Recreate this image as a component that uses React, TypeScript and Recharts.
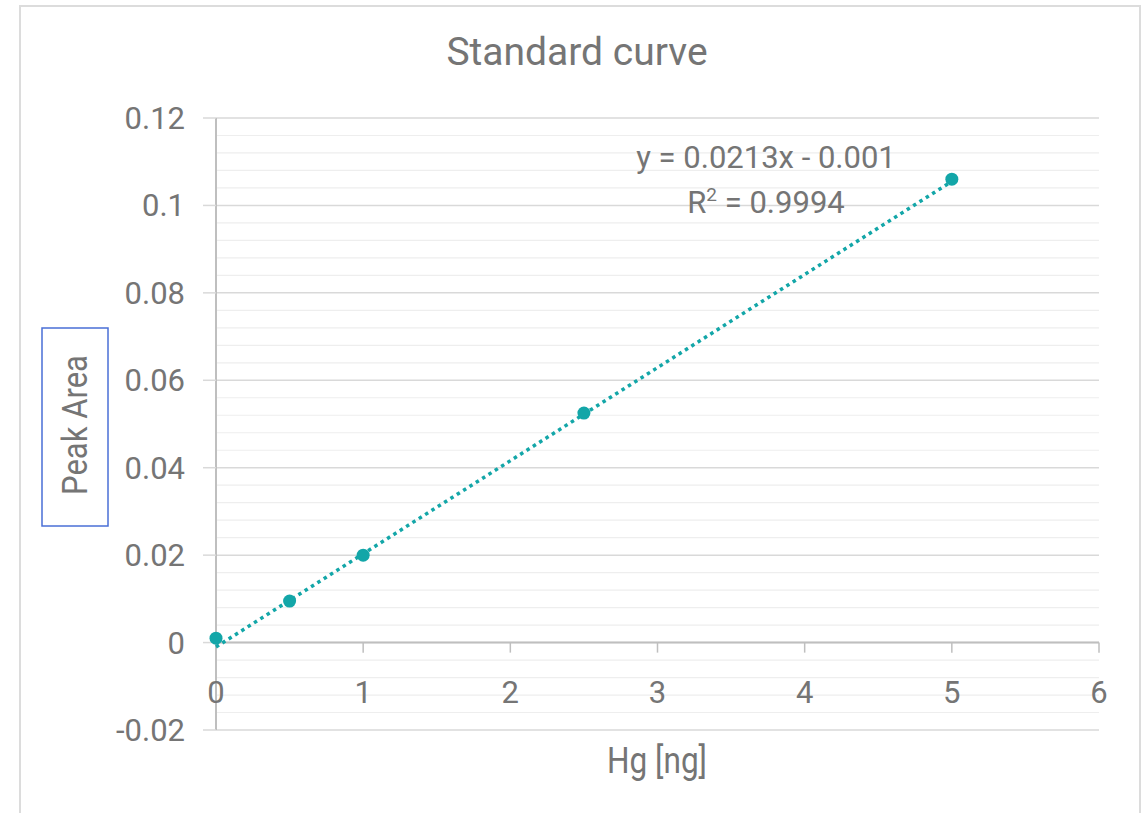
import React from 'react';
import {
  ScatterChart,
  Scatter,
  XAxis,
  YAxis,
  CartesianGrid,
  ReferenceLine,
} from 'recharts';

// Hg amount [ng] and measured peak area
const hgAmounts = [0, 0.5, 1, 2.5, 5];
const peakAreas = [0.001, 0.0095, 0.02, 0.0525, 0.106];

// trendline end points, from y = 0.0213x - 0.001 over the data range
const trendX = [0, 5];
const trendY = [-0.001, 0.1055];

const xTicks = [0, 1, 2, 3, 4, 5, 6];
const yTicks = [-0.02, 0, 0.02, 0.04, 0.06, 0.08, 0.1, 0.12];
const minorY = [
  -0.016, -0.012, -0.008, -0.004, 0.004, 0.008, 0.012, 0.016, 0.024, 0.028,
  0.032, 0.036, 0.044, 0.048, 0.052, 0.056, 0.064, 0.068, 0.072, 0.076, 0.084,
  0.088, 0.092, 0.096, 0.104, 0.108, 0.112, 0.116,
];

const points = hgAmounts.map((x, i) => ({ x, y: peakAreas[i] }));
const trend = trendX.map((x, i) => ({ x, y: trendY[i] }));

const TEAL = '#13a6a8';
const TEXT = '#757575';
const FONT = 'Roboto, "Noto Sans", sans-serif';

const fmt = (v: number) => String(parseFloat(v.toFixed(3)));

export default function App() {
  return (
    <div
      style={{
        position: 'absolute',
        left: 0,
        top: 0,
        width: 1143,
        height: 813,
        background: '#fff',
      }}
    >
      <ScatterChart
        width={1143}
        height={813}
        margin={{ top: 118, right: 44, bottom: 83, left: 0 }}
      >
        {minorY.map((v) => (
          <ReferenceLine key={'m' + v} y={v} stroke="#eeeeee" strokeWidth={1.2} />
        ))}
        <CartesianGrid vertical={false} stroke="#d9d9d9" strokeWidth={1.5} />
        <XAxis type="number" dataKey="x" domain={[0, 6]} ticks={xTicks} hide />
        <YAxis
          type="number"
          dataKey="y"
          domain={[-0.02, 0.12]}
          ticks={yTicks}
          width={216}
          tickSize={13}
          tickMargin={18}
          axisLine={{ stroke: '#bfbfbf', strokeWidth: 2 }}
          tickLine={{ stroke: '#d9d9d9', strokeWidth: 1.5 }}
          tick={{ fill: TEXT, fontSize: 31, fontFamily: FONT }}
          tickFormatter={fmt}
        />
        <ReferenceLine y={0} stroke="#bfbfbf" strokeWidth={2} />
        {xTicks.map((t) => (
          <ReferenceLine
            key={'x' + t}
            segment={[
              { x: t, y: 0 },
              { x: t, y: -0.0023 },
            ]}
            stroke="#bfbfbf"
            strokeWidth={1.5}
            label={{
              value: String(t),
              position: 'bottom',
              offset: 28,
              fill: TEXT,
              fontSize: 31,
              fontFamily: FONT,
            }}
          />
        ))}
        <Scatter
          data={trend}
          line={{ stroke: TEAL, strokeWidth: 3.5, strokeDasharray: '3.5 4' }}
          shape={() => <g />}
          isAnimationActive={false}
        />
        <Scatter
          data={points}
          fill={TEAL}
          shape={(p: any) => <circle cx={p.cx} cy={p.cy} r={6.5} fill={TEAL} />}
          isAnimationActive={false}
        />
      </ScatterChart>
      <svg
        width={1143}
        height={813}
        style={{ position: 'absolute', left: 0, top: 0, pointerEvents: 'none' }}
      >
        <rect x={20} y={6} width={1120} height={830} fill="none" stroke="#dcdcdc" strokeWidth={2} />
        <text x={577} y={65} textAnchor="middle" fill={TEXT} fontSize={39} fontFamily={FONT}>
          Standard curve
        </text>
        <text x={766} y={168} textAnchor="middle" fill={TEXT} fontSize={31} fontFamily={FONT}>
          y = 0.0213x - 0.001
        </text>
        <text x={766} y={213} textAnchor="middle" fill={TEXT} fontSize={31} fontFamily={FONT}>
          R
          <tspan fontSize={19} dy={-12}>
            2
          </tspan>
          <tspan dy={12}> = 0.9994</tspan>
        </text>
        <rect x={42} y={328} width={66} height={198} fill="none" stroke="#4a6fd6" strokeWidth={1.5} />
        <text
          x={0}
          y={0}
          transform="translate(87 425) rotate(-90)"
          textAnchor="middle"
          fill={TEXT}
          fontSize={35}
          fontFamily={FONT}
          textLength={140}
          lengthAdjust="spacingAndGlyphs"
        >
          Peak Area
        </text>
        <text
          x={657}
          y={773}
          textAnchor="middle"
          fill={TEXT}
          fontSize={37}
          fontFamily={FONT}
          textLength={100}
          lengthAdjust="spacingAndGlyphs"
        >
          Hg [ng]
        </text>
      </svg>
    </div>
  );
}
